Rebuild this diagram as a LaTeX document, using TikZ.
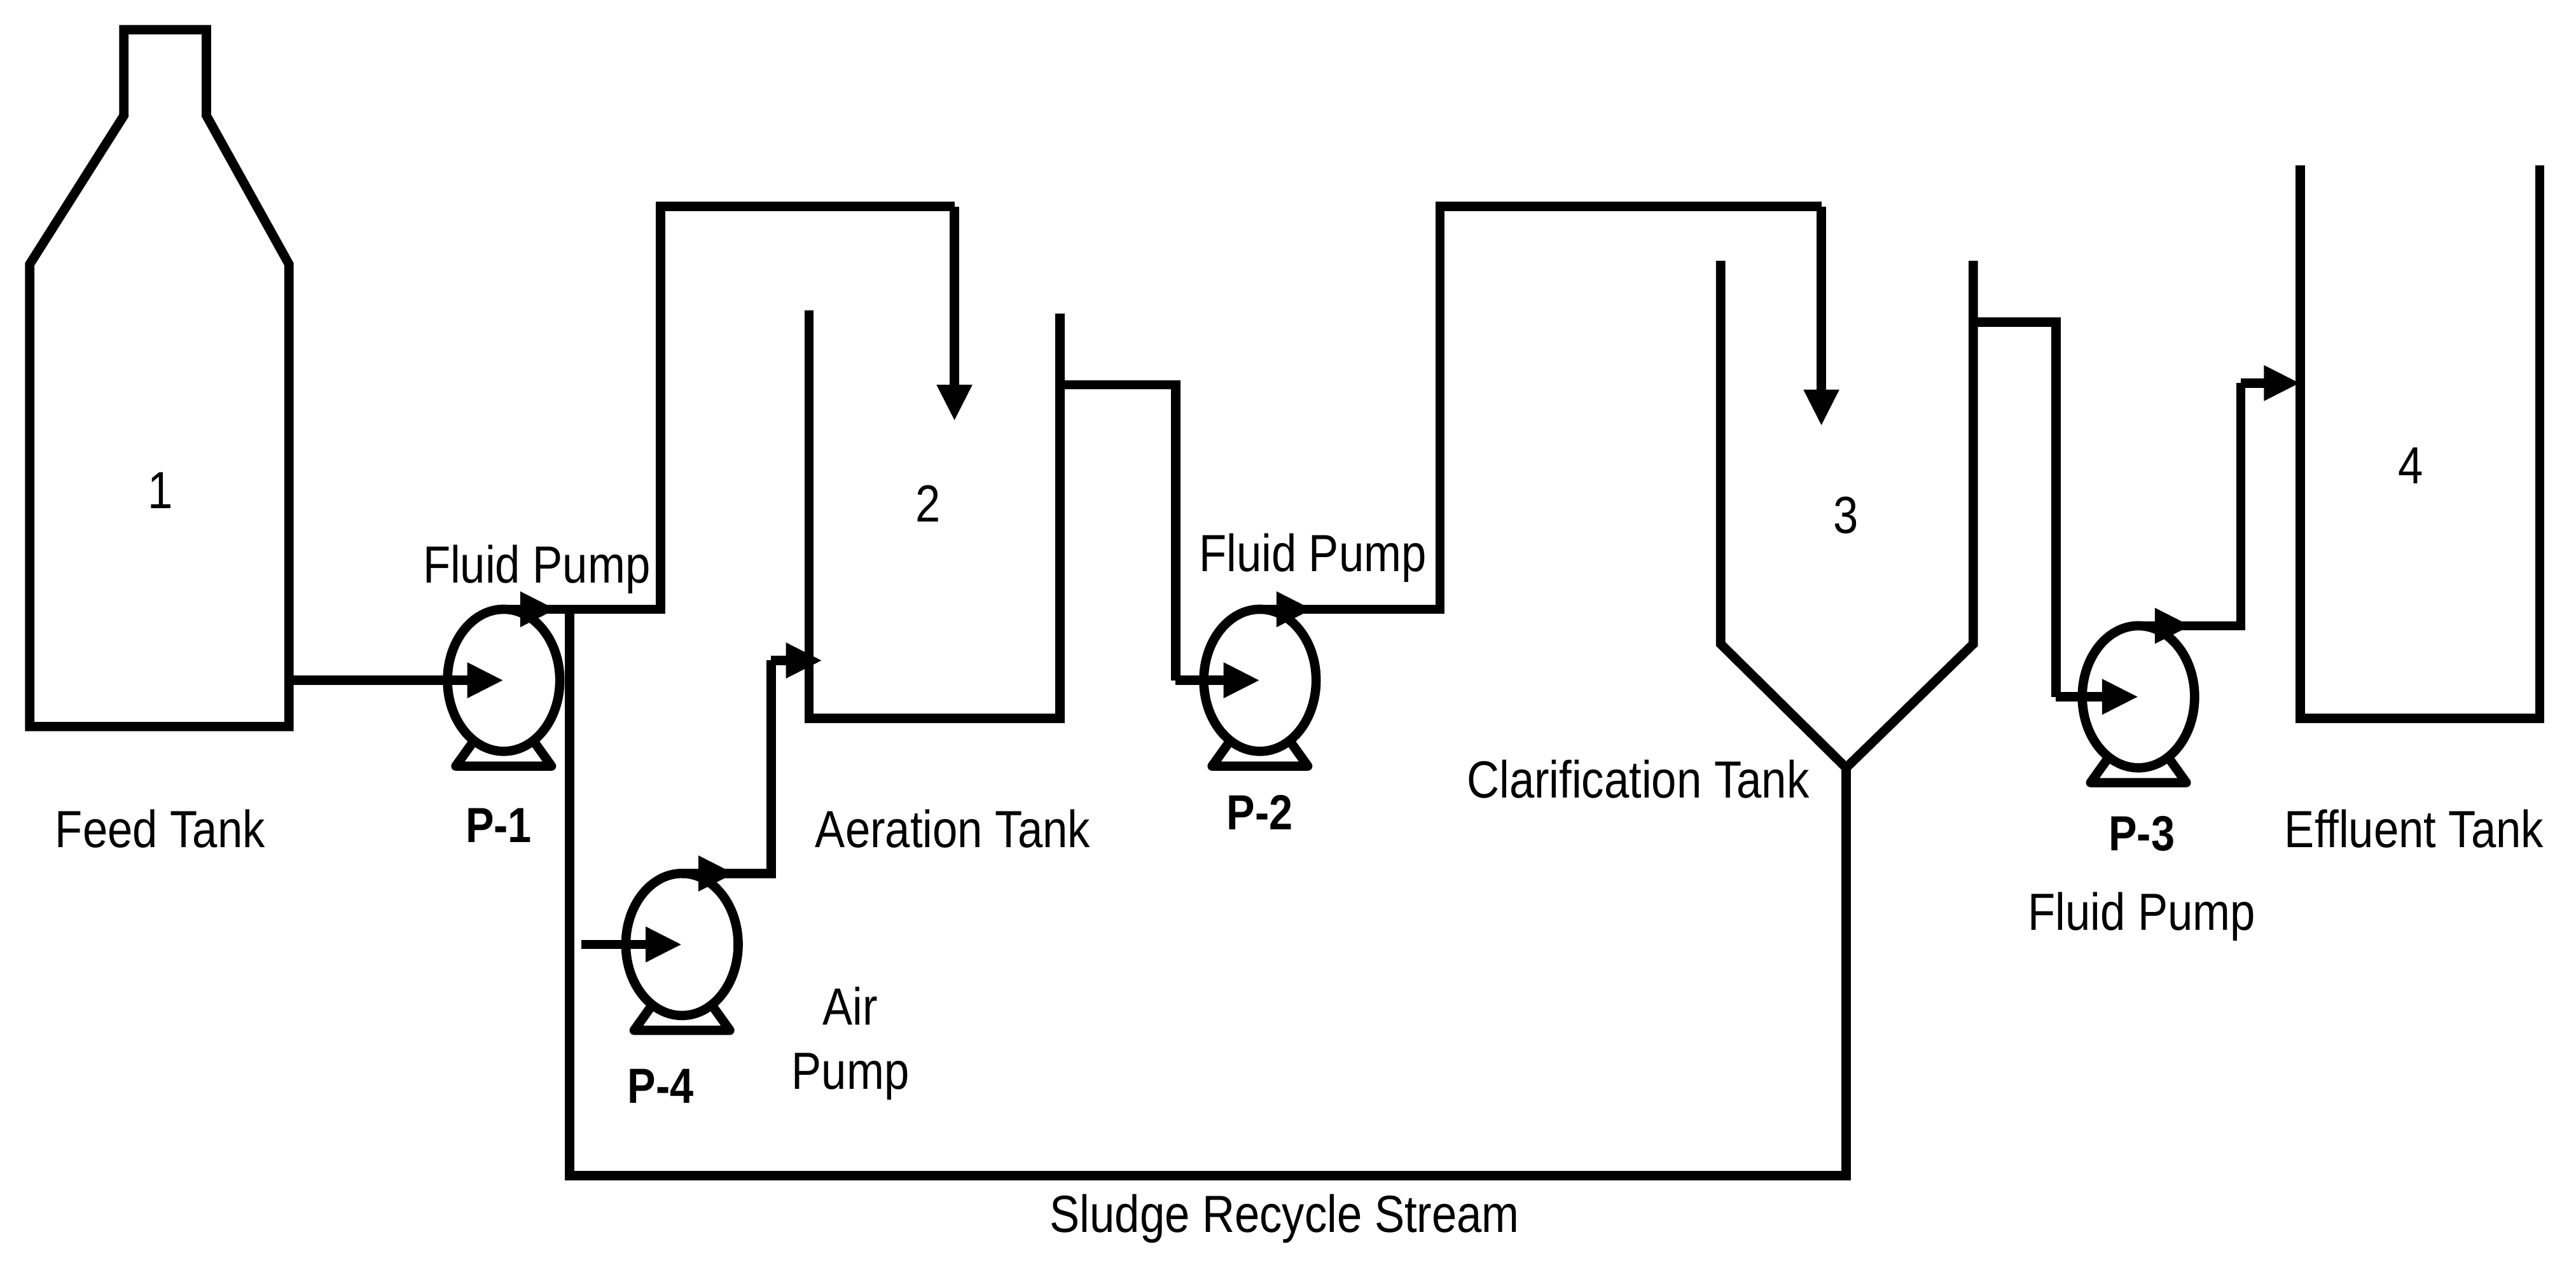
\documentclass[tikz,border=0pt]{standalone}
\usepackage{fontspec}
\setmainfont[FakeStretch=0.86]{Liberation Sans}
\usetikzlibrary{arrows.meta,shapes.geometric,calc}
\begin{document}
\begin{tikzpicture}[x=0.01cm,y=-0.01cm,
  ln/.style={line width=1.6pt,line join=miter},
  arr/.style={ln,-{Triangle[length=0.22cm,width=0.2cm]}},
  pump/.style={ellipse,draw,line width=1.6pt,minimum width=0.68cm,minimum height=0.86cm,inner sep=0pt,outer sep=0pt},
  lbl/.style={font=\fontsize{9}{11}\selectfont,align=center},
  blbl/.style={font=\bfseries\fontsize{8.5}{10}\selectfont}]
\useasboundingbox (0,0) rectangle (1560,766);
\newcommand\mypump[3]{%
  \node[pump] (#1) at (#2,#3) {};
  \coordinate (#1o) at (#2,#3-43);
  \draw[ln,line join=round,line cap=round] ($(#2,#3)+(-19,38)$) -- ($(#2,#3)+(-29,52)$) -- ($(#2,#3)+(29,52)$) -- ($(#2,#3)+(19,38)$);
  \draw[arr] (#1o) -- ++(32,0);}
% tanks
\draw[ln] (18,440) -- (18,160) -- (75,70) -- (75,18) -- (125,18) -- (125,70) -- (175,160) -- (175,440) -- cycle;
\draw[ln] (490,188) -- (490,435) -- (642,435) -- (642,190);
\draw[ln] (1042,158) -- (1042,390) -- (1118,465) coordinate (cb) -- (1195,390) -- (1195,158);
\draw[ln] (1393,100) -- (1393,435) -- (1538,435) -- (1538,100);
\node[lbl] (t1) at (97,297) {1};
\node[lbl] (t2) at (562,305) {2};
\node[lbl] (t3) at (1118,312) {3};
\node[lbl] (t4) at (1460,282) {4};
\node[lbl] (l1) at (97,502) {Feed Tank};
\node[lbl] (l2) at (577,502) {Aeration Tank};
\node[lbl] (l3) at (992,472) {Clarification Tank};
\node[lbl] (l4) at (1462,502) {Effluent Tank};
% pumps
\mypump{P1}{305}{412}
\mypump{P2}{763}{412}
\mypump{P3}{1295}{422}
\mypump{P4}{413}{572}
\node[blbl] (n1) at (302,500) {P-1};
\node[blbl] (n2) at (763,492) {P-2};
\node[blbl] (n3) at (1297,505) {P-3};
\node[blbl] (n4) at (400,658) {P-4};
\node[lbl] (f1) at (325,345) {Fluid Pump};
\node[lbl] (f2) at (795,338) {Fluid Pump};
\node[lbl] (f3) at (1297,555) {Fluid Pump};
\node[lbl] (f4) at (515,632) {Air\\Pump};
\node[lbl] (sr) at (778,738) {Sludge Recycle Stream};
% streams
\coordinate (fo) at (175,412);
\draw[arr] (fo) -- (P1.center);
\draw[ln] (P1o) -- (400,369) -- (400,125) -- (578,125) coordinate (a1);
\draw[arr] (a1) -- (578,255);
\draw[ln] (345,369) -- (345,712) -- (1118,712) -- (cb);
\coordinate (ao) at (642,233);
\draw[ln] (ao) -- (712,233) -- (712,412) coordinate (a2);
\draw[arr] (a2) -- (P2.center);
\draw[ln] (P2o) -- (872,369) -- (872,125) -- (1103,125) coordinate (a3);
\draw[arr] (a3) -- (1103,258);
\coordinate (co) at (1195,195);
\draw[ln] (co) -- (1245,195) -- (1245,422) coordinate (a4);
\draw[arr] (a4) -- (P3.center);
\draw[ln] (P3o) -- (1357,379) -- (1357,232) coordinate (a5);
\draw[arr] (a5) -- (1393,232);
\coordinate (ai) at (352,572);
\draw[arr] (ai) -- (P4.center);
\draw[ln] (P4o) -- (467,529) -- (467,400) coordinate (a6);
\draw[arr] (a6) -- (498,400);
\end{tikzpicture}
\end{document}
